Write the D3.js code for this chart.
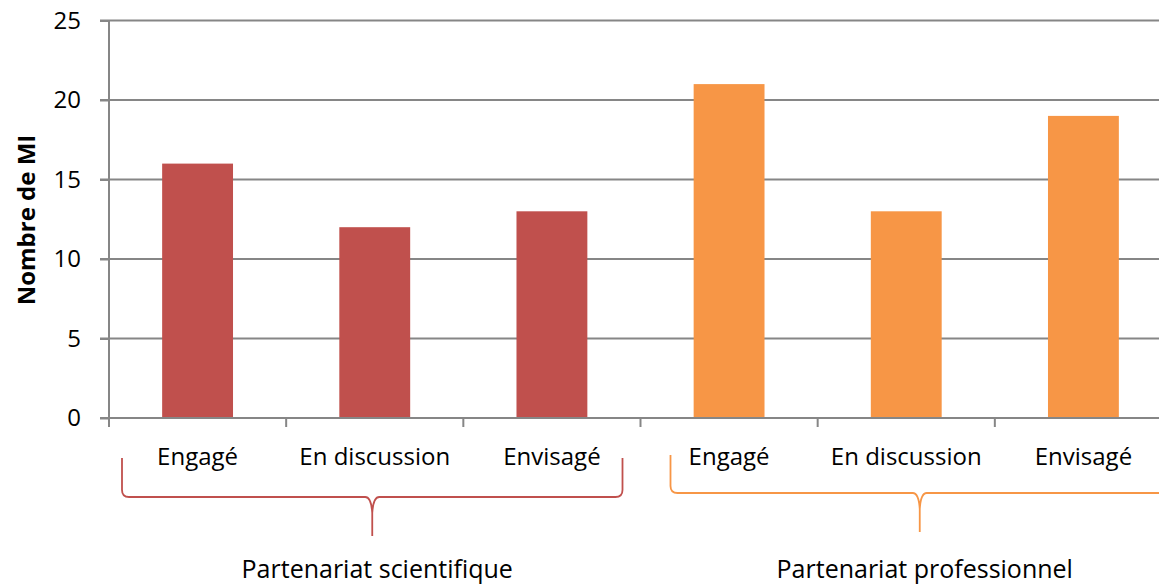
<!DOCTYPE html>
<html>
<head>
<meta charset="utf-8">
<script src="https://cdn.jsdelivr.net/npm/d3@7"></script>
<style>
  body { margin: 0; background: #fff; }
  svg { display: block; font-family: 'Open Sans', sans-serif; }
</style>
</head>
<body>
<svg id="chart" width="1159" height="587"></svg>
<script>
// data
var groups = ['Partenariat scientifique', 'Partenariat professionnel'];
var statuses = ['Engagé', 'En discussion', 'Envisagé'];
var scientifique = [16, 12, 13];
var professionnel = [21, 13, 19];
var yTicks = [0, 5, 10, 15, 20, 25];
var colors = ['#C0504D', '#F79646'];

var series = [scientifique, professionnel];
var rows = [];
series.forEach(function(vals, g) {
  vals.forEach(function(v, i) {
    rows.push({ key: g + '-' + i, group: g, status: statuses[i], value: v });
  });
});

var svg = d3.select('#chart');
var W = 1159, plotLeft = 109, plotTop = 20.5, plotBottom = 418, plotRight = 1172;

var x = d3.scaleBand()
    .domain(rows.map(d => d.key))
    .range([plotLeft, plotRight])
    .paddingInner(0.6)
    .paddingOuter(0.3);

var y = d3.scaleLinear().domain([0, 25]).range([plotBottom, plotTop]);

// gridlines
svg.append('g').selectAll('line')
    .data(yTicks.slice(1))
    .enter().append('line')
    .attr('x1', plotLeft - 9).attr('x2', W)
    .attr('y1', d => y(d)).attr('y2', d => y(d))
    .attr('stroke', '#868686').attr('stroke-width', 2);

// y axis
var yAxis = d3.axisLeft(y).tickValues(yTicks).tickSize(9).tickPadding(19);
var gy = svg.append('g').attr('transform', 'translate(' + plotLeft + ',0)').call(yAxis);
gy.select('.domain').attr('stroke', '#868686').attr('stroke-width', 2).attr('d', 'M0,' + y(25) + 'V' + y(0));
gy.selectAll('line').attr('stroke', '#868686').attr('stroke-width', 2);
gy.selectAll('text').attr('font-size', 24).attr('fill', '#000').attr('font-family', 'Open Sans');

// bars
svg.append('g').selectAll('rect')
    .data(rows)
    .enter().append('rect')
    .attr('x', d => x(d.key))
    .attr('width', x.bandwidth())
    .attr('y', d => y(d.value))
    .attr('height', d => y(0) - y(d.value))
    .attr('fill', d => colors[d.group]);

// x axis
var step = x.step();
var bounds = d3.range(rows.length + 1).map(i => plotLeft + i * step);
svg.append('line')
    .attr('x1', plotLeft - 9).attr('x2', W)
    .attr('y1', plotBottom).attr('y2', plotBottom)
    .attr('stroke', '#868686').attr('stroke-width', 2);
svg.append('g').selectAll('line')
    .data(bounds)
    .enter().append('line')
    .attr('x1', d => d).attr('x2', d => d)
    .attr('y1', plotBottom).attr('y2', plotBottom + 9)
    .attr('stroke', '#868686').attr('stroke-width', 2);

svg.append('g').selectAll('text')
    .data(rows)
    .enter().append('text')
    .attr('x', d => x(d.key) + x.bandwidth() / 2)
    .attr('y', 465)
    .attr('text-anchor', 'middle')
    .attr('font-size', 24)
    .attr('fill', '#000')
    .text(d => d.status);

// braces under each group
var braceSpec = [
  { x0: bounds[0] + 13, x1: bounds[3] - 18, top: 458, mid: 497, tip: 536 },
  { x0: bounds[3] + 30, x1: bounds[6] - 3, top: 455, mid: 493, tip: 532 }
];
function bracePath(b) {
  var r = 7, xc = (b.x0 + b.x1) / 2;
  return 'M' + b.x0 + ',' + b.top +
    'L' + b.x0 + ',' + (b.mid - r) +
    'Q' + b.x0 + ',' + b.mid + ' ' + (b.x0 + r) + ',' + b.mid +
    'L' + (xc - 7) + ',' + b.mid +
    'Q' + (xc - 1) + ',' + b.mid + ' ' + xc + ',' + (b.mid + 16) +
    'L' + xc + ',' + b.tip +
    'M' + xc + ',' + (b.mid + 16) +
    'Q' + (xc + 1) + ',' + b.mid + ' ' + (xc + 7) + ',' + b.mid +
    'L' + (b.x1 - r) + ',' + b.mid +
    'Q' + b.x1 + ',' + b.mid + ' ' + b.x1 + ',' + (b.mid - r) +
    'L' + b.x1 + ',' + b.top;
}
svg.append('g').selectAll('path')
    .data(braceSpec)
    .enter().append('path')
    .attr('d', bracePath)
    .attr('fill', 'none')
    .attr('stroke', (d, i) => colors[i])
    .attr('stroke-width', 1.8);

svg.append('g').selectAll('text')
    .data(groups)
    .enter().append('text')
    .attr('x', (d, i) => (braceSpec[i].x0 + braceSpec[i].x1) / 2 + 5)
    .attr('y', 578)
    .attr('text-anchor', 'middle')
    .attr('font-size', 25)
    .attr('fill', '#000')
    .text(d => d);

// y axis title
svg.append('text')
    .attr('transform', 'translate(35,' + 220 + ') rotate(-90)')
    .attr('text-anchor', 'middle')
    .attr('font-size', 24)
    .attr('font-weight', 'bold')
    .attr('fill', '#000')
    .text('Nombre de MI');
</script>
</body>
</html>
